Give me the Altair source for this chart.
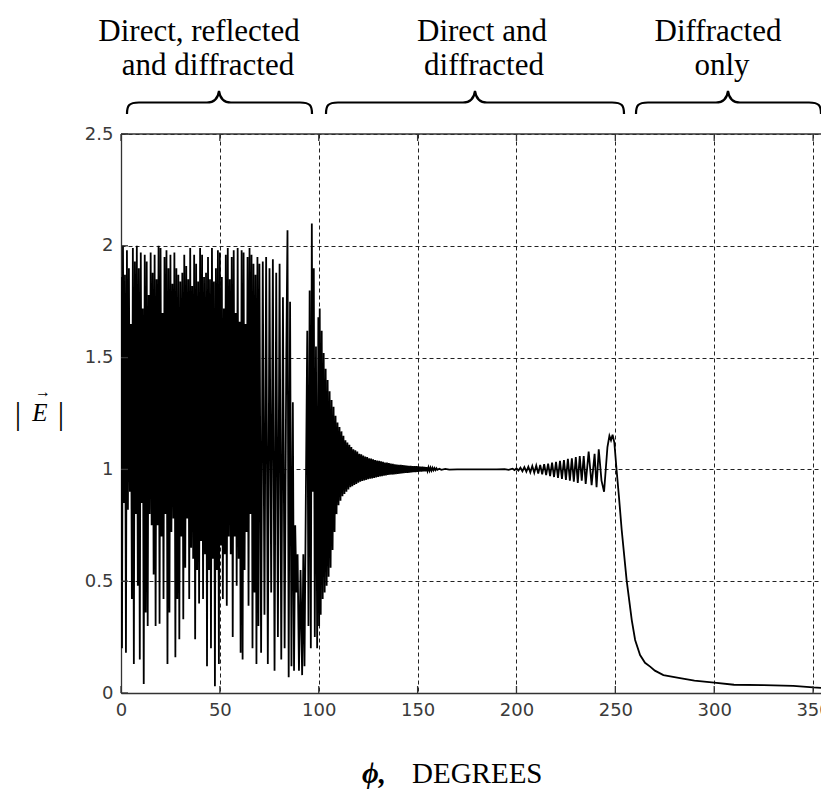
import altair as alt
import pandas as pd

# ---------------- data ----------------
# 0..70 deg : dense interference, peaks at integer degrees, troughs at half degrees
dense_peaks = [1.86, 2.00, 1.87, 1.98, 1.90, 1.65, 1.99, 1.93, 2.00, 1.90,
               1.97, 1.72, 1.96, 1.93, 1.78, 1.97, 1.88, 1.96, 1.85, 2.00,
               1.99, 1.70, 1.95, 1.98, 1.90, 1.96, 1.83, 1.97, 1.90, 1.87,
               1.84, 1.88, 1.96, 1.91, 1.85, 1.99, 1.82, 1.96, 1.92, 1.84,
               1.99, 1.96, 1.86, 1.88, 1.95, 1.85, 1.99, 1.84, 1.90, 1.98,
               1.97, 1.86, 1.72, 1.96, 1.99, 1.85, 1.95, 1.98, 1.70, 1.99,
               1.66, 1.98, 1.97, 1.65, 1.95, 1.99, 1.96, 1.92, 1.87, 1.95,
               1.92]
dense_troughs = [0.20, 0.85, 0.18, 0.82, 0.90, 0.42, 0.13, 0.80, 0.48, 0.15,
                 0.85, 0.04, 0.36, 0.30, 0.80, 0.75, 0.53, 0.30, 0.75, 0.31,
                 0.70, 0.42, 0.80, 0.13, 0.36, 0.72, 0.78, 0.16, 0.42, 0.24,
                 0.70, 0.33, 0.56, 0.78, 0.42, 0.65, 0.60, 0.24, 0.55, 0.40,
                 0.68, 0.42, 0.62, 0.12, 0.55, 0.20, 0.60, 0.03, 0.55, 0.13,
                 0.66, 0.42, 0.62, 0.39, 0.70, 0.62, 0.25, 0.70, 0.48, 0.60,
                 0.18, 0.15, 0.55, 0.72, 0.39, 0.80, 0.20, 0.45, 0.13, 0.30]

# 70..100 deg : transition near the reflection boundary (slower oscillation)
trans_phi = [70.85, 71.7, 72.55, 73.4, 74.25, 75.1, 75.95, 76.8, 77.65, 78.5,
             79.35, 80.2, 81.05, 81.9, 82.75, 83.6, 84.2, 84.8, 85.5, 86.2,
             86.9, 87.5, 88.1, 88.7, 89.3, 90, 90.8, 91.6, 92.2, 92.8,
             93.5, 94.2, 94.8, 95.4, 96, 96.5, 97, 97.5, 98, 98.6,
             99.2, 99.8, 100.2]
trans_E = [0.18, 1.93, 0.35, 1.95, 0.13, 1.90, 0.45, 1.94, 0.10, 1.88,
           0.25, 1.92, 0.15, 1.77, 0.20, 1.52, 2.07, 0.07, 1.75, 0.12,
           1.30, 0.10, 0.75, 0.45, 0.62, 0.10, 0.55, 0.08, 0.62, 0.12,
           0.90, 1.62, 0.30, 1.80, 0.20, 2.10, 0.90, 1.90, 0.25, 1.55,
           0.20, 1.68, 0.30]

# 100..160 deg : decaying ripple, highs at x.5, lows at integers
decay_highs = [1.72, 1.62, 1.52, 1.45, 1.40, 1.35, 1.31, 1.28, 1.24, 1.21,
               1.19, 1.17, 1.15, 1.13, 1.12, 1.11, 1.10, 1.09, 1.085, 1.08,
               1.07, 1.068, 1.062, 1.058, 1.055, 1.05, 1.048, 1.045, 1.042, 1.04,
               1.038, 1.036, 1.034, 1.031, 1.03, 1.028, 1.026, 1.025, 1.023, 1.022,
               1.02, 1.02, 1.019, 1.018, 1.017, 1.016, 1.016, 1.015, 1.014, 1.014,
               1.013, 1.012, 1.012, 1.011, 1.01, 1.009, 1.008, 1.007, 1.006, 1.005]
decay_lows = [0.35, 0.42, 0.45, 0.48, 0.52, 0.56, 0.64, 0.72, 0.80, 0.84,
              0.86, 0.88, 0.89, 0.90, 0.91, 0.92, 0.925, 0.93, 0.935, 0.94,
              0.945, 0.948, 0.95, 0.953, 0.956, 0.958, 0.96, 0.962, 0.964, 0.966,
              0.968, 0.97, 0.972, 0.973, 0.975, 0.976, 0.977, 0.978, 0.979, 0.98,
              0.981, 0.982, 0.983, 0.984, 0.985, 0.986, 0.987, 0.988, 0.988, 0.989,
              0.99, 0.99, 0.991, 0.992, 0.993, 0.994, 0.995, 0.996, 0.997, 0.998]

# 160..354 deg : flat, growing ripple near shadow boundary, then diffracted tail
tail_phi = [161, 162, 164, 166, 170, 175, 180, 185, 190, 194, 196, 198, 199,
            200, 201, 202, 203, 204, 205, 206, 207, 208, 209, 210, 211, 212, 213,
            214, 215, 216, 217, 218, 219, 220, 221, 222, 223, 224, 225, 226, 227,
            228, 229, 230, 231, 232, 233, 234, 235, 236.5, 238, 239.5, 240.5,
            241.6, 243, 244.3, 246, 247, 247.8, 248.6, 249.5, 250.6, 251.8, 253.2,
            255.7, 258.3, 260, 262.5, 265, 267.6, 270, 274.3, 282.7, 290, 300,
            310, 325, 340, 350, 354]
tail_E = [1.003, 0.998, 1.002, 0.999, 1.0, 1.0, 1.0, 1.0, 1.0, 1.001, 0.998, 1.003, 0.997,
          1.005, 0.995, 1.008, 0.992, 1.01, 0.99, 1.012, 0.987, 1.015, 0.985, 1.017, 0.982,
          1.02, 0.978, 1.023, 0.975, 1.026, 0.97, 1.03, 0.966, 1.034, 0.962, 1.038, 0.958,
          1.042, 0.953, 1.047, 0.95, 1.05, 0.945, 1.055, 0.94, 1.06, 0.95, 1.06, 0.935,
          1.08, 0.93, 1.07, 0.92, 1.09, 0.95, 0.90, 1.10, 1.15, 1.13, 1.155, 1.12, 1.0,
          0.88, 0.73, 0.505, 0.326, 0.237, 0.17, 0.135, 0.118, 0.10, 0.08, 0.067, 0.055,
          0.046, 0.037, 0.035, 0.032, 0.025, 0.023]

x_ticks = [0, 50, 100, 150, 200, 250, 300, 350]
y_ticks = [0, 0.5, 1, 1.5, 2, 2.5]

region_line1 = ["Direct, reflected", "Direct and", "Diffracted"]
region_line2 = ["and diffracted", "diffracted", "only"]

# ---------------- build the table ----------------
phi, E = [], []
for i, p in enumerate(dense_peaks):
    phi.append(float(i)); E.append(p)
    if i < len(dense_troughs):
        phi.append(i + 0.5); E.append(dense_troughs[i])
phi += trans_phi; E += trans_E
for i in range(len(decay_highs)):
    phi.append(100.5 + i); E.append(decay_highs[i])
    phi.append(101 + i); E.append(decay_lows[i])
phi += tail_phi; E += tail_E
df = pd.DataFrame({"phi": phi, "E": E, "order": range(len(phi))})

W, H = 700, 559
XMAX = 354
FONT_SERIF = "Liberation Serif"
FONT_SANS = "DejaVu Sans"
AXC = "#333333"
GRIDC = "#222222"

xs = alt.Scale(domain=[0, XMAX], nice=False, zero=False)
ys = alt.Scale(domain=[0, 2.5], nice=False)

axis_common = dict(title=None, grid=True, gridDash=[4, 3], gridColor=GRIDC,
                   gridWidth=1, ticks=False, domainColor=AXC, domainWidth=1.3,
                   labelFont=FONT_SANS, labelFontSize=18, labelColor="#3a3a3a",
                   labelFlush=False, labelOverlap=False)

line = alt.Chart(df).mark_line(color="black", strokeWidth=1.8, clip=True).encode(
    x=alt.X("phi:Q", scale=xs,
            axis=alt.Axis(values=x_ticks, format="d", labelPadding=8, **axis_common)),
    y=alt.Y("E:Q", scale=ys,
            axis=alt.Axis(values=y_ticks, format="~g", labelPadding=8, **axis_common)),
    order="order:Q",
)

xt = pd.DataFrame({"t": x_ticks})
yt = pd.DataFrame({"t": y_ticks})
tick_bottom = alt.Chart(xt).mark_rule(color=AXC, strokeWidth=1.3).encode(
    x=alt.X("t:Q", scale=xs), y=alt.value(H), y2=alt.value(H - 7))
tick_top = alt.Chart(xt).mark_rule(color=AXC, strokeWidth=1.3).encode(
    x=alt.X("t:Q", scale=xs), y=alt.value(0), y2=alt.value(7))
tick_left = alt.Chart(yt).mark_rule(color=AXC, strokeWidth=1.3).encode(
    y=alt.Y("t:Q", scale=ys), x=alt.value(0), x2=alt.value(7))
top_border = alt.Chart(alt.Data(values=[{}])).mark_rule(color=AXC, strokeWidth=1.3).encode(
    x=alt.value(0), x2=alt.value(W), y=alt.value(0))


def txt(s, x, y, size, align="center", style="normal", weight="normal",
        baseline="alphabetic", font=FONT_SERIF):
    return alt.Chart(alt.Data(values=[{}])).mark_text(
        text=s, align=align, baseline=baseline, font=font, fontSize=size,
        fontStyle=style, fontWeight=weight, color="black").encode(
        x=alt.value(x), y=alt.value(y))


def brace(cx, y, L, R, h1=11.5, h2=11.5):
    path = (f"M{-L},{h1 + h2} C{-L},{h1 + 3} {-L + 2},{h1} {-L + 12},{h1} "
            f"L-12,{h1} C-5,{h1} -1,{h1 - 4} 0,0 C1,{h1 - 4} 5,{h1} 12,{h1} "
            f"L{R - 12},{h1} C{R - 2},{h1} {R},{h1 + 3} {R},{h1 + h2}")
    return alt.Chart(alt.Data(values=[{}])).mark_point(
        shape=path, size=4, filled=False, strokeWidth=2.2, color="black",
        opacity=1).encode(x=alt.value(cx), y=alt.value(y))


OX, OY = 121, 134  # plot origin in page pixels
annots = []
centers1 = [199, 482, 718]
centers2 = [208, 484, 722]
for i in range(3):
    annots.append(txt(region_line1[i], centers1[i] - OX, 41 - OY, 31))
    annots.append(txt(region_line2[i], centers2[i] - OX, 75 - OY, 31))
annots.append(brace(219 - OX, 91 - OY, 92, 93))
annots.append(brace(475 - OX, 91 - OY, 149, 149))
annots.append(brace(728 - OX, 91 - OY, 92, 93))

# y title |E| with vector arrow
annots.append(txt("|", 18 - OX, 414 - OY, 32, baseline="middle"))
annots.append(txt("|", 61 - OX, 414 - OY, 32, baseline="middle"))
annots.append(txt("E", 40 - OX, 421 - OY, 25, style="italic"))
annots.append(txt("\u2192", 43 - OX, 397 - OY, 16))
# x title
annots.append(txt("\u03d5,", 362 - OX, 783 - OY, 29, align="left", style="italic",
                  weight="bold"))
annots.append(txt("DEGREES", 412 - OX, 783 - OY, 29, align="left"))

chart = alt.layer(line, tick_bottom, tick_top, tick_left, top_border, *annots).properties(
    width=W, height=H,
    autosize=alt.AutoSizeParams(type="none"),
    padding={"left": OX, "top": OY, "right": 0, "bottom": 790 - OY - H},
    background="white",
).configure_view(stroke=None)

chart.save("out.html", embed_options={"renderer": "svg", "actions": False})
